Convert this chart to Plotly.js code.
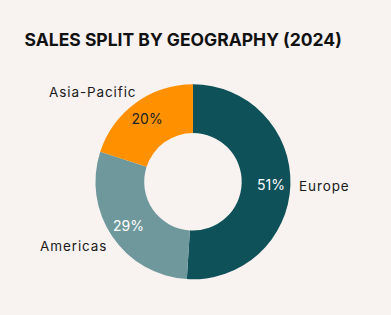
<!DOCTYPE html>
<html>
<head>
<meta charset="utf-8">
<script src="https://cdn.plot.ly/plotly-3.0.1.min.js"></script>
<style>
  html, body { margin: 0; padding: 0; background: #f8f2f1; }
  #chart { width: 391px; height: 315px; }
  .annotation-text { letter-spacing: 0.9px; }
</style>
</head>
<body>
<div id="chart"></div>
<script>
const regions = ['Europe', 'Americas', 'Asia-Pacific'];
const shares = [51, 29, 20];
const sliceColors = ['#0e5159', '#6e989c', '#ff9100'];
const pctColors = ['#ffffff', '#ffffff', '#222222'];
const titleText = 'SALES SPLIT BY GEOGRAPHY (2024)';

// outside label anchor positions (paper coords, left-anchored)
const labelPos = [
  { x: 297 / 391, y: 1 - 186 / 315 },
  { x: 38 / 391, y: 1 - 246 / 315 },
  { x: 47 / 391, y: 1 - 91.5 / 315 }
];

const pieDomain = { x: [0.2435, 0.7435], y: [0.1133, 0.7324] };

// visible donut ring
const ring = {
  type: 'pie',
  labels: regions,
  values: shares,
  hole: 0.5,
  sort: false,
  direction: 'clockwise',
  rotation: 0,
  marker: { colors: sliceColors, line: { width: 0 } },
  textinfo: 'none',
  hoverinfo: 'none',
  showlegend: false,
  domain: pieDomain
};

// transparent overlay that carries the percentage labels further out in the ring
const pctLayer = {
  type: 'pie',
  labels: regions,
  values: shares,
  hole: 0.6,
  sort: false,
  direction: 'clockwise',
  rotation: 0,
  marker: { colors: ['rgba(0,0,0,0)', 'rgba(0,0,0,0)', 'rgba(0,0,0,0)'], line: { width: 0 } },
  texttemplate: '%{percent:.0%}',
  textposition: 'inside',
  insidetextorientation: 'horizontal',
  insidetextfont: { family: 'Inter, sans-serif', size: 14, color: pctColors },
  hoverinfo: 'none',
  showlegend: false,
  domain: pieDomain
};

const layout = {
  width: 391,
  height: 315,
  margin: { l: 0, r: 0, t: 0, b: 0 },
  paper_bgcolor: '#f8f2f1',
  plot_bgcolor: '#f8f2f1',
  font: { family: 'Inter, sans-serif', color: '#1a1a1a' },
  title: {
    text: titleText,
    xref: 'paper', yref: 'paper',
    x: 24.5 / 391, xanchor: 'left',
    y: 1 - 40 / 315, yanchor: 'middle',
    font: { family: 'Inter, sans-serif', size: 17.5, weight: 700, color: '#111111' }
  },
  annotations: regions.map((r, i) => ({
    text: r,
    xref: 'paper', yref: 'paper',
    x: labelPos[i].x, y: labelPos[i].y,
    xanchor: 'left', yanchor: 'middle',
    showarrow: false,
    font: { family: 'Inter, sans-serif', size: 13.5, color: '#1a1a1a' }
  }))
};

Plotly.newPlot('chart', [ring, pctLayer], layout, { displayModeBar: false, staticPlot: true });
</script>
</body>
</html>
